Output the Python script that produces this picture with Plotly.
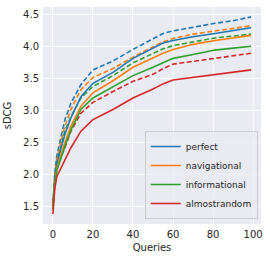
import plotly.graph_objects as go

queries = [0, 1, 2, 4, 6, 9, 14, 20, 30, 40, 50, 55, 60, 70, 81, 90, 99]

perfect = [1.50, 1.95, 2.18, 2.42, 2.63, 2.89, 3.22, 3.43, 3.60, 3.82, 3.98, 4.06, 4.10, 4.16, 4.21, 4.25, 4.30]
perfect_dashed = [1.55, 2.05, 2.30, 2.60, 2.86, 3.12, 3.41, 3.64, 3.78, 3.96, 4.12, 4.21, 4.25, 4.31, 4.37, 4.41, 4.47]
navigational = [1.50, 1.90, 2.10, 2.32, 2.50, 2.76, 3.07, 3.28, 3.47, 3.68, 3.83, 3.90, 3.96, 4.04, 4.10, 4.14, 4.18]
navigational_dashed = [1.50, 2.00, 2.25, 2.52, 2.76, 3.02, 3.33, 3.52, 3.66, 3.84, 4.00, 4.08, 4.13, 4.20, 4.25, 4.29, 4.33]
informational = [1.50, 1.88, 2.07, 2.27, 2.44, 2.70, 3.02, 3.20, 3.37, 3.55, 3.68, 3.75, 3.82, 3.88, 3.95, 3.98, 4.01]
informational_dashed = [1.45, 1.95, 2.20, 2.45, 2.68, 2.91, 3.20, 3.38, 3.55, 3.75, 3.90, 3.97, 4.02, 4.08, 4.14, 4.17, 4.20]
almostrandom = [1.38, 1.80, 1.97, 2.10, 2.22, 2.42, 2.68, 2.86, 3.02, 3.20, 3.34, 3.42, 3.48, 3.52, 3.56, 3.60, 3.64]
almostrandom_dashed = [1.50, 1.90, 2.08, 2.27, 2.42, 2.68, 2.96, 3.13, 3.30, 3.46, 3.57, 3.66, 3.73, 3.77, 3.82, 3.86, 3.90]

series = [
    ("perfect", perfect, perfect_dashed, "#1f77b4"),
    ("navigational", navigational, navigational_dashed, "#ff7f0e"),
    ("informational", informational, informational_dashed, "#2ca02c"),
    ("almostrandom", almostrandom, almostrandom_dashed, "#d62728"),
]

fig = go.Figure()
for name, solid, dashed, color in series:
    fig.add_trace(go.Scatter(x=queries, y=dashed, mode="lines", showlegend=False,
                             line=dict(color=color, width=1.6, dash="5px,2.5px")))
for name, solid, dashed, color in series:
    fig.add_trace(go.Scatter(x=queries, y=solid, mode="lines", name=name,
                             line=dict(color=color, width=1.6)))

font = dict(family="DejaVu Sans", size=10, color="#262626")
fig.update_layout(
    width=270, height=261,
    margin=dict(l=43, r=9, t=7, b=37, autoexpand=False),
    paper_bgcolor="white", plot_bgcolor="#EAEAF2",
    font=font,
    legend=dict(x=0.985, y=0.023, xanchor="right", yanchor="bottom",
                bgcolor="rgba(234,234,242,0.8)", bordercolor="#cccccc", borderwidth=1,
                font=dict(family="DejaVu Sans", size=9, color="#262626"),
                itemwidth=30, tracegroupgap=0),
    xaxis=dict(range=[-4.95, 103.95], tickvals=[0, 20, 40, 60, 80, 100],
               showgrid=True, gridcolor="white", gridwidth=1, zeroline=False,
               automargin=False, ticklabelstandoff=3,
               showline=False, ticks="", title=dict(text="Queries", standoff=4,
               font=dict(size=10))),
    yaxis=dict(range=[1.225, 4.625], tickvals=[1.5, 2.0, 2.5, 3.0, 3.5, 4.0, 4.5],
               ticktext=["1.5", "2.0", "2.5", "3.0", "3.5", "4.0", "4.5"],
               automargin=False, ticklabelstandoff=3,
               showgrid=True, gridcolor="white", gridwidth=1, zeroline=False,
               showline=False, ticks="", title=dict(text="sDCG", standoff=9,
               font=dict(size=10))),
)
fig.write_html("out.html", config={"displayModeBar": False},
               post_script="document.body.style.margin='0';document.body.style.overflow='hidden';")
